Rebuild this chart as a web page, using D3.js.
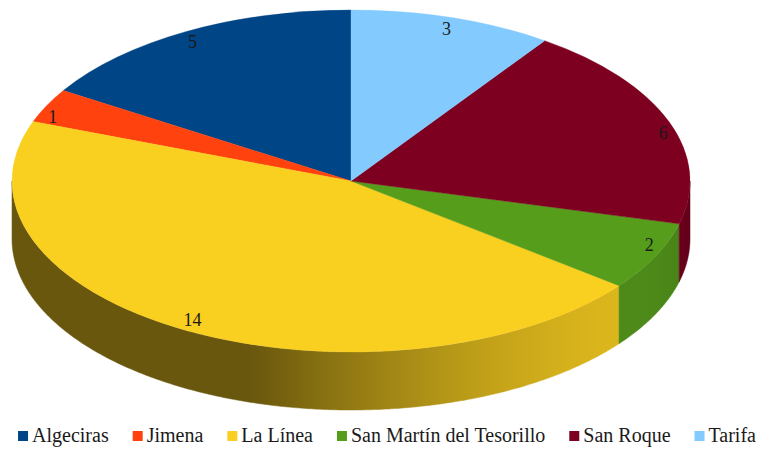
<!DOCTYPE html>
<html>
<head>
<meta charset="utf-8">
<script src="https://cdn.jsdelivr.net/npm/d3@7"></script>
<style>
  body { margin: 0; background: #fff; }
  svg { display: block; }
  text { font-family: "Liberation Serif", "Times New Roman", Tinos, "DejaVu Serif", serif; }
</style>
</head>
<body>
<div id="chart"></div>
<script>
// data
const categories = ["Algeciras", "Jimena", "La Línea", "San Martín del Tesorillo", "San Roque", "Tarifa"];
const values = [5, 1, 14, 2, 6, 3];
const colors = ["#004586", "#ff420e", "#f9cf20", "#579d1c", "#7e0021", "#83caff"];

const W = 763, H = 450;
const cx = 351, cy = 181, rx = 339, ry = 171, depth = 58;

const data = categories.map((c, i) => ({ name: c, value: values[i], color: colors[i] }));

const svg = d3.select("#chart").append("svg")
  .attr("width", W)
  .attr("height", H);
const defs = svg.append("defs");

// slices run counter-clockwise from 12 o'clock
const pie = d3.pie().sort(null).value(d => d.value)
  .startAngle(0).endAngle(-2 * Math.PI);
const arcs = pie(data);

const pt = (a, dy = 0) => [cx + rx * Math.sin(a), cy - ry * Math.cos(a) + dy];

// side shading: light from the front right
function bright(a) {
  let deg = (a * 180 / Math.PI) % 360;
  if (deg < 0) deg += 360;
  return 0.42 + 0.46 * Math.max(0, Math.cos(1.25 * (deg - 125) * Math.PI / 180));
}

// one horizontal gradient per slice, stops sampled along the front half
arcs.forEach((d, i) => {
  const c = d3.rgb(d.data.color);
  const g = defs.append("linearGradient")
    .attr("id", "wall" + i)
    .attr("gradientUnits", "userSpaceOnUse")
    .attr("x1", cx - rx).attr("y1", 0)
    .attr("x2", cx + rx).attr("y2", 0);
  d3.range(3 * Math.PI / 2, Math.PI / 2 - 0.001, -Math.PI / 90).forEach(a => {
    const b = bright(a);
    g.append("stop")
      .attr("offset", ((pt(a)[0] - (cx - rx)) / (2 * rx)).toFixed(4))
      .attr("stop-color", d3.rgb(c.r * b, c.g * b, c.b * b).formatHex());
  });
});

// walls (front half only)
const walls = svg.append("g").attr("class", "walls");
arcs.forEach((d, i) => {
  const lo = Math.min(d.startAngle, d.endAngle) + 2 * Math.PI;
  const hi = Math.max(d.startAngle, d.endAngle) + 2 * Math.PI;
  const a0 = Math.max(lo, Math.PI / 2), a1 = Math.min(hi, 3 * Math.PI / 2);
  if (a1 <= a0) return;
  const n = Math.max(2, Math.ceil((a1 - a0) / (Math.PI / 360)));
  const ts = d3.range(n + 1).map(k => a0 + (a1 - a0) * k / n);
  const poly = ts.map(t => pt(t)).concat(ts.slice().reverse().map(t => pt(t, depth)));
  walls.append("path")
    .attr("d", "M" + poly.join("L") + "Z")
    .attr("fill", `url(#wall${i})`)
    .attr("stroke", `url(#wall${i})`)
    .attr("stroke-width", 0.5);
});

// top surface
const arc = d3.arc().innerRadius(0).outerRadius(rx);
svg.append("g")
  .attr("transform", `translate(${cx},${cy}) scale(1,${ry / rx})`)
  .selectAll("path")
  .data(arcs)
  .enter().append("path")
  .attr("d", arc)
  .attr("fill", d => d.data.color)
  .attr("stroke", d => d.data.color)
  .attr("stroke-width", 0.5);

// value labels
svg.append("g").selectAll("text")
  .data(arcs)
  .enter().append("text")
  .attr("x", d => {
    const a = (d.startAngle + d.endAngle) / 2;
    return pt(a)[0] - 6 * Math.sign(Math.sin(a));
  })
  .attr("y", d => {
    const a = (d.startAngle + d.endAngle) / 2;
    return pt(a)[1] + 11 * Math.sign(Math.cos(a));
  })
  .attr("text-anchor", "middle")
  .attr("dominant-baseline", "central")
  .style("font-size", "18px")
  .style("fill", "#1a1a1a")
  .text(d => d.data.value);

// legend
const legend = svg.append("g");
let lx = 0;
data.forEach(d => {
  const item = legend.append("g").attr("transform", `translate(${lx},0)`);
  item.append("rect")
    .attr("x", 0).attr("y", -5)
    .attr("width", 10).attr("height", 10)
    .attr("fill", d.color);
  const t = item.append("text")
    .attr("x", 14).attr("y", 6)
    .style("font-size", "20px")
    .style("fill", "#1a1a1a")
    .text(d.name);
  lx += 14 + t.node().getComputedTextLength() + 24;
});
const lw = lx - 24;
legend.attr("transform", `translate(${387 - lw / 2},436)`);
</script>
</body>
</html>
